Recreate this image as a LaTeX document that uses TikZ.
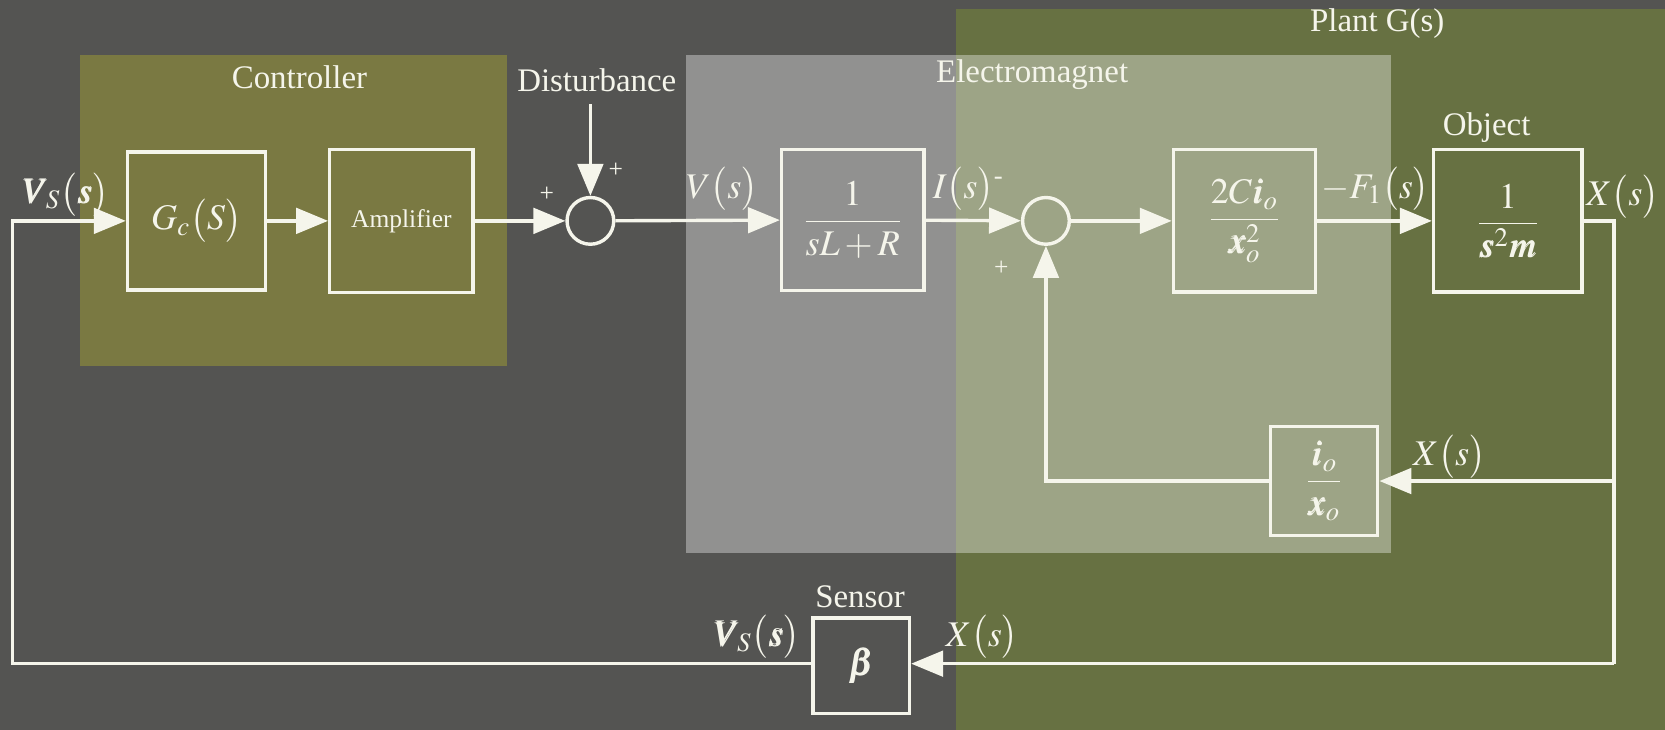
\documentclass[tikz,border=0pt]{standalone}
\usepackage{amsmath}
\usepackage{mathptmx}
\usepackage{bm}
\usepackage[no-math]{fontspec}
\setmainfont{Liberation Serif}
\usetikzlibrary{arrows.meta}
\definecolor{bgdark}{RGB}{84,84,82}
\definecolor{plantg}{RGB}{103,113,66}
\definecolor{ctrlc}{RGB}{122,121,66}
\definecolor{ink}{RGB}{245,245,235}
\begin{document}
\begin{tikzpicture}[x=0.5pt,y=-0.5pt,
  blk/.style={draw=ink, line width=1.6pt, inner sep=0pt, text=ink, minimum width=67pt, minimum height=67pt},
  sumc/.style={draw=ink, line width=1.6pt, circle, inner sep=0pt, minimum size=22pt},
  wire/.style={draw=ink, line width=1.6pt},
  arr/.style={-{Triangle[length=15pt,width=12pt]}},
  ttl/.style={text=ink, font=\fontsize{15.5}{18}\selectfont, inner sep=0pt},
  mlab/.style={text=ink, font=\fontsize{17}{20}\selectfont, inner sep=0pt},
  sgn/.style={text=ink, font=\fontsize{12}{13}\selectfont, inner sep=0pt}]
\fill[bgdark] (0,0) rectangle (1568,687);
\useasboundingbox (0,0) rectangle (1568,687);
\fill[plantg] (900,8) rectangle (1568,687);
\fill[ctrlc] (75,52) rectangle (477,345);
\fill[white,opacity=0.36] (646,52) rectangle (1310,521);
% titles
\node[ttl] (tctrl) at (282,73) {Controller};
\node[ttl] (tdist) at (562,76) {Disturbance};
\node[ttl] (tem) at (972,70) {Electromagnet};
\node[ttl] (tplant) at (1297,22) {Plant G(s)};
\node[ttl] (tobj) at (1400,120) {Object};
\node[ttl] (tsen) at (810,562) {Sensor};
% blocks
\node[blk, minimum width=65pt, minimum height=65pt, font=\fontsize{17}{20}\selectfont] (gc) at (185,208) {$G_c\big(S\big)$};
\node[blk, minimum width=67.5pt, minimum height=67.5pt, font=\fontsize{12}{14}\selectfont] (amp) at (378,208) {Amplifier};
\node[sumc] (s1) at (556,208) {};
\node[blk, minimum height=66.5pt, font=\fontsize{17}{20}\selectfont] (g1) at (803,207) {$\dfrac{1}{sL+R}$};
\node[sumc] (s2) at (985,208) {};
\node[blk, font=\fontsize{17}{20}\selectfont] (g2) at (1172,208) {$\dfrac{2C\bm{i}_o}{\bm{x}_o^2}$};
\node[blk, minimum width=70pt, font=\fontsize{17}{20}\selectfont] (g3) at (1420,208) {$\dfrac{1}{\bm{s}^2\bm{m}}$};
\node[blk, minimum width=50.5pt, minimum height=51.5pt, font=\fontsize{17}{20}\selectfont] (g4) at (1247,453) {$\dfrac{\bm{i}_o}{\bm{x}_o}$};
\node[blk, minimum width=45.5pt, minimum height=45pt, font=\fontsize{17}{20}\selectfont] (sen) at (811,627) {$\bm{\beta}$};
% coordinates
\coordinate (xr) at (1520,208);
\coordinate (xf) at (1520,453);
\coordinate (xb) at (1520,625);
\coordinate (lb) at (12,625);
\coordinate (lt) at (12,208);
\coordinate (dtop) at (556,98);
% wires
\draw[wire,arr] (sen.west |- lb) -- (lb) -- (lt) -- (gc.west);
\draw[wire,arr] (gc) -- (amp);
\draw[wire,arr] (amp) -- (s1);
\draw[wire,arr] (dtop) -- (s1);
\draw[wire,arr] (s1) -- (g1);
\draw[wire,arr] (g1) -- (s2);
\draw[wire,arr] (s2) -- (g2);
\draw[wire,arr] (g2) -- (g3);
\draw[wire] (g3.east) -- (xr) -- (xb);
\draw[wire,arr] (xf) -- (g4.east |- xf);
\draw[wire,arr] (g4.west |- xf) -| (s2.south);
\draw[wire,arr] (xb) -- (sen.east |- xb);
% signal labels
\node[mlab] (lvs1) at (62,183) {$\bm{V}_{\!S}\big(\bm{s}\big)$};
\node[mlab] (lv) at (680,178) {$V\big(s\big)$};
\node[mlab] (li) at (912,178) {$I\big(s\big)$\textsuperscript{-}};
\node[mlab, anchor=west] (lf) at (1244,178) {$-F_1\big(s\big)$};
\node[mlab] (lx1) at (1528,185) {$X\big(s\big)$};
\node[mlab] (lx2) at (1365,430) {$X\big(s\big)$};
\node[mlab] (lvs2) at (713,600) {$\bm{V}_{\!S}\big(\bm{s}\big)$};
\node[mlab] (lx3) at (925,600) {$X\big(s\big)$};
% signs
\node[sgn] (p1) at (515,183) {+};
\node[sgn] (p2) at (580,160) {+};
\node[sgn] (p3) at (943,253) {+};
\end{tikzpicture}
\end{document}
